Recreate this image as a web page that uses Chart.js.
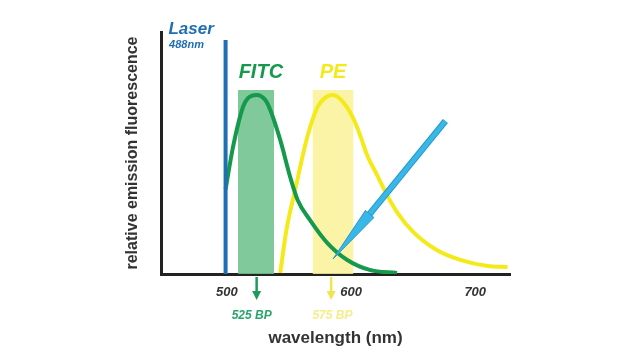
<!DOCTYPE html>
<html>
<head>
<meta charset="utf-8">
<script src="https://cdn.jsdelivr.net/npm/chart.js@4.4.1/dist/chart.umd.min.js"></script>
<style>
  html, body { margin: 0; padding: 0; background: #fff; }
  #wrap { width: 641px; height: 360px; }
</style>
</head>
<body>
<div id="wrap"><canvas id="myChart" width="641" height="360"></canvas></div>
<script>
// wavelength (nm) / relative emission
const fitcX = [499, 505, 513, 517, 524, 531, 535, 543, 551, 557, 567, 581, 597, 615, 637];
const fitcY = [0.35, 0.525, 0.69, 0.727, 0.74, 0.719, 0.678, 0.554, 0.401, 0.306, 0.223, 0.128, 0.058, 0.017, 0.004];
const peX = [543, 548, 555, 565, 573, 579, 585.5, 593.5, 601.6, 607.3, 612.9, 621, 629, 637, 650, 669, 688, 710, 726];
const peY = [0.004, 0.182, 0.347, 0.57, 0.69, 0.728, 0.74, 0.711, 0.645, 0.574, 0.492, 0.409, 0.326, 0.256, 0.174, 0.099, 0.058, 0.033, 0.029];

const fitcBand = [509, 538];
const peBand = [569, 602];
const bandTop = 0.76;

const laserAt = 499;
const laserTop = 0.967;

const tickValues = [500, 600, 700];
const tickLabels = ['500', '600', '700'];

const filterNames = ['525 BP', '575 BP'];
const filterAt = [524, 584];
const filterLabelAt = [520, 585];

// blue pointer arrow, [wavelength, emission] of start and tip
const pointerFrom = [676, 0.632];
const pointerTo = [585.5, 0.062];

const green = '#15994c';
const yellow = '#f4ea1a';
const blue = '#1f6fb3';
const font = 'Liberation Sans, Arial, sans-serif';

function pts(xs, ys) {
  return xs.map((x, i) => ({x: x, y: ys[i]}));
}

function drawArrow(ctx, x1, y1, x2, y2, color, width, headLen, headW, outline) {
  var a = Math.atan2(y2 - y1, x2 - x1);
  var bx = x2 - headLen * Math.cos(a), by = y2 - headLen * Math.sin(a);
  ctx.save();
  ctx.lineCap = 'butt';
  if (outline) {
    ctx.strokeStyle = outline;
    ctx.lineWidth = width + 2;
    ctx.beginPath(); ctx.moveTo(x1, y1); ctx.lineTo(bx, by); ctx.stroke();
  }
  ctx.strokeStyle = color;
  ctx.lineWidth = width;
  ctx.beginPath(); ctx.moveTo(x1, y1); ctx.lineTo(bx, by); ctx.stroke();
  ctx.fillStyle = color;
  ctx.beginPath();
  ctx.moveTo(x2, y2);
  ctx.lineTo(bx + headW * Math.sin(a), by - headW * Math.cos(a));
  ctx.lineTo(bx - headW * Math.sin(a), by + headW * Math.cos(a));
  ctx.closePath();
  ctx.fill();
  if (outline) { ctx.strokeStyle = outline; ctx.lineWidth = 1; ctx.stroke(); }
  ctx.restore();
}

const extras = {
  id: 'extras',
  afterDatasetsDraw(chart) {
    var ctx = chart.ctx, xs = chart.scales.x, ys = chart.scales.y;
    var bottom = chart.chartArea.bottom;

    // pointer
    drawArrow(ctx, xs.getPixelForValue(pointerFrom[0]), ys.getPixelForValue(pointerFrom[1]),
      xs.getPixelForValue(pointerTo[0]), ys.getPixelForValue(pointerTo[1]),
      '#38b8e8', 4.5, 58, 5.5, '#2596c8');

    ctx.save();
    ctx.textBaseline = 'middle';

    // laser label
    ctx.textAlign = 'left';
    ctx.fillStyle = blue;
    ctx.font = 'italic bold 17px ' + font;
    ctx.fillText('Laser', xs.getPixelForValue(453), ys.getPixelForValue(1.012));
    ctx.font = 'italic bold 11px ' + font;
    ctx.fillText('488nm', xs.getPixelForValue(453.5), ys.getPixelForValue(0.946));

    // dye names
    ctx.textAlign = 'center';
    ctx.font = 'italic bold 20px ' + font;
    ctx.fillStyle = green;
    ctx.fillText('FITC', xs.getPixelForValue(527.4), ys.getPixelForValue(0.831));
    ctx.fillStyle = yellow;
    ctx.fillText('PE', xs.getPixelForValue(585.5), ys.getPixelForValue(0.831));

    // filter arrows under the axis
    var cols = ['#1d9a5c', '#efe64e'];
    var labCols = ['#2ba36e', '#f3ee8a'];
    ctx.font = 'italic bold 12px ' + font;
    for (var i = 0; i < filterNames.length; i++) {
      var px = xs.getPixelForValue(filterAt[i]);
      drawArrow(ctx, px, bottom + 3, px, bottom + 26, cols[i], 2.5, 9, 4.5);
      ctx.fillStyle = labCols[i];
      ctx.fillText(filterNames[i], xs.getPixelForValue(filterLabelAt[i]), bottom + 42);
    }
    ctx.restore();
  }
};

const ctx = document.getElementById('myChart');

var chart = new Chart(ctx, {
  type: 'scatter',
  data: {
    datasets: [
      {
        label: 'Laser',
        data: [{x: laserAt, y: 0}, {x: laserAt, y: laserTop}],
        showLine: true, borderColor: blue, borderWidth: 4,
        pointRadius: 0, order: 1
      },
      {
        label: 'FITC',
        data: pts(fitcX, fitcY),
        showLine: true, borderColor: green, borderWidth: 4,
        cubicInterpolationMode: 'monotone', pointRadius: 0, order: 2
      },
      {
        label: 'PE',
        data: pts(peX, peY),
        showLine: true, borderColor: yellow, borderWidth: 4,
        cubicInterpolationMode: 'monotone', pointRadius: 0, order: 3
      },
      {
        label: '525 BP',
        data: [{x: fitcBand[0], y: bandTop}, {x: fitcBand[1], y: bandTop}],
        showLine: true, borderWidth: 0, fill: 'origin',
        backgroundColor: 'rgba(110,194,140,0.88)', pointRadius: 0, order: 4
      },
      {
        label: '575 BP',
        data: [{x: peBand[0], y: bandTop}, {x: peBand[1], y: bandTop}],
        showLine: true, borderWidth: 0, fill: 'origin',
        backgroundColor: 'rgba(250,242,150,0.85)', pointRadius: 0, order: 4
      }
    ]
  },
  options: {
    responsive: false,
    animation: false,
    layout: {
      padding: {left: 120, right: 131, top: 32, bottom: 0}
    },
    plugins: {
      legend: false,
      tooltip: {enabled: false}
    },
    scales: {
      x: {
        type: 'linear', min: 447, max: 728,
        afterBuildTicks: s => { s.ticks = tickValues.map(v => ({value: v})); },
        afterFit: s => { s.height = 86; },
        grid: {display: false, drawTicks: false},
        border: {display: true, color: '#222', width: 3},
        ticks: {
          padding: 11,
          color: '#333',
          font: {family: font, size: 13, style: 'italic', weight: 'bold'},
          callback: (v) => tickLabels[tickValues.indexOf(v)]
        },
        title: {
          display: true, text: 'wavelength (nm)', color: '#333',
          font: {family: font, size: 17, weight: 'bold'},
          padding: {top: 0, bottom: 11.8}
        }
      },
      y: {
        min: 0, max: 1,
        afterFit: s => { s.width = 41; },
        grid: {display: false, drawTicks: false},
        border: {display: true, color: '#222', width: 3},
        ticks: {display: false},
        title: {
          display: true, text: 'relative emission fluorescence', color: '#333',
          font: {family: font, size: 16, weight: 'bold'},
          padding: {top: 3.4, bottom: 0}
        }
      }
    }
  },
  plugins: [extras]
});
</script>
</body>
</html>
